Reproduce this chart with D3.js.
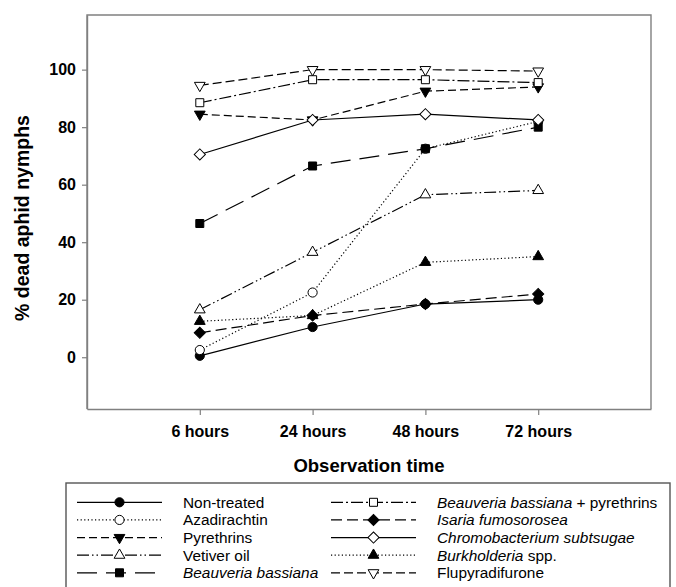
<!DOCTYPE html>
<html>
<head>
<meta charset="utf-8">
<script src="https://cdn.jsdelivr.net/npm/d3@7"></script>
<style>
  body { margin: 0; background: #fff; }
  svg { display: block; font-family: 'Liberation Sans', Arial, sans-serif; }
</style>
</head>
<body>
<svg id="chart" width="676" height="587"></svg>
<script>
// observation times on the x axis
var timePoints = ['6 hours', '24 hours', '48 hours', '72 hours'];
var yTicks = [0, 20, 40, 60, 80, 100];

// % dead aphid nymphs per treatment
var nonTreated          = [0.5, 10.5, 18.5, 20];
var azadirachtin        = [2.5, 22.5, 72.5, 82];
var pyrethrins          = [84.5, 82.5, 92.5, 94];
var vetiverOil          = [16.5, 36.5, 56.5, 58];
var beauveria           = [46.5, 66.5, 72.5, 80];
var beauveriaPyrethrins = [88.5, 96.5, 96.5, 95.5];
var isaria              = [8.5, 14.5, 18.5, 22];
var chromobacterium     = [70.5, 82.5, 84.5, 82.5];
var burkholderia        = [12.5, 14.5, 33, 35];
var flupyradifurone     = [94.5, 100, 100, 99.5];

// legend names: [text, italic] pieces
var seriesNames = [
  [['Non-treated', false]],
  [['Azadirachtin', false]],
  [['Pyrethrins', false]],
  [['Vetiver oil', false]],
  [['Beauveria bassiana', true]],
  [['Beauveria bassiana', true], [' + pyrethrins', false]],
  [['Isaria fumosorosea', true]],
  [['Chromobacterium subtsugae', true]],
  [['Burkholderia', true], [' spp.', false]],
  [['Flupyradifurone', false]]
];

(function() {
  var seriesValues = [nonTreated, azadirachtin, pyrethrins, vetiverOil, beauveria,
    beauveriaPyrethrins, isaria, chromobacterium, burkholderia, flupyradifurone];

  // styles: marker shape, filled, dash pattern
  var styles = [
    { shape: 'circle', filled: true,  dash: null },
    { shape: 'circle', filled: false, dash: '1.2,2.4' },
    { shape: 'down',   filled: true,  dash: '8,4' },
    { shape: 'up',     filled: false, dash: '12,3,1.5,3,1.5,3' },
    { shape: 'square', filled: true,  dash: '20,9' },
    { shape: 'square', filled: false, dash: '12,3,2,3' },
    { shape: 'diamond', filled: true, dash: '11,5' },
    { shape: 'diamond', filled: false, dash: null },
    { shape: 'up',     filled: true,  dash: '1.2,2.4' },
    { shape: 'down',   filled: false, dash: '9,4' }
  ];

  var svg = d3.select('#chart');
  var plotLeft = 87, plotRight = 651, plotTop = 15, plotBottom = 409;

  var x = d3.scalePoint().domain(timePoints).range([plotLeft, plotRight]).padding(1);
  var y = d3.scaleLinear().domain([-18, 119]).range([plotBottom, plotTop]);

  var symbolFor = function(shape) {
    if (shape === 'circle') return d3.symbol(d3.symbolCircle, 66)();
    if (shape === 'square') return d3.symbol(d3.symbolSquare, 64)();
    if (shape === 'diamond') return d3.symbol(d3.symbolSquare, 62)();
    return d3.symbol(d3.symbolTriangle, 50)();
  };
  var rotateFor = function(shape) {
    if (shape === 'diamond') return 45;
    if (shape === 'down') return 180;
    return 0;
  };

  function drawMarker(g, st, cx, cy) {
    g.append('path')
      .attr('d', symbolFor(st.shape))
      .attr('transform', 'translate(' + cx + ',' + cy + ') rotate(' + rotateFor(st.shape) + ')')
      .attr('fill', st.filled ? '#000' : '#fff')
      .attr('stroke', '#000')
      .attr('stroke-width', 1);
  }

  // frame
  var frameColor = '#808080';
  svg.append('path')
    .attr('d', 'M' + plotLeft + ',' + plotBottom + 'V' + plotTop + 'H' + plotRight + 'V' + plotBottom)
    .attr('fill', 'none').attr('stroke', frameColor).attr('stroke-width', 1.4);

  // axes
  var yAxis = svg.append('g').attr('transform', 'translate(' + plotLeft + ',0)')
    .call(d3.axisLeft(y).tickValues(yTicks).tickSize(5).tickSizeOuter(0).tickPadding(6));
  var xAxis = svg.append('g').attr('transform', 'translate(0,' + plotBottom + ')')
    .call(d3.axisBottom(x).tickSize(6).tickSizeOuter(0).tickPadding(11));
  [xAxis, yAxis].forEach(function(a) {
    a.select('.domain').attr('stroke', frameColor).attr('stroke-width', 1.4);
    a.selectAll('.tick line').attr('stroke', frameColor).attr('stroke-width', 1.2);
    a.selectAll('.tick text')
      .attr('fill', '#000')
      .style('font-family', "'Liberation Sans', Arial, sans-serif")
      .style('font-size', '16px')
      .style('font-weight', 'bold');
  });

  // series lines
  var line = d3.line()
    .x(function(d, i) { return x(timePoints[i]); })
    .y(function(d) { return y(d); });

  var plot = svg.append('g');
  seriesValues.forEach(function(vals, k) {
    var st = styles[k];
    var g = plot.append('g');
    g.append('path')
      .attr('d', line(vals))
      .attr('fill', 'none')
      .attr('stroke', '#000')
      .attr('stroke-width', 1.2)
      .attr('stroke-dasharray', st.dash);
    vals.forEach(function(v, i) {
      drawMarker(g, st, x(timePoints[i]), y(v));
    });
  });

  // axis titles
  svg.append('text')
    .attr('x', (plotLeft + plotRight) / 2).attr('y', 472)
    .attr('text-anchor', 'middle')
    .style('font-size', '18.5px').style('font-weight', 'bold')
    .text('Observation time');

  svg.append('text')
    .attr('transform', 'translate(29,218) rotate(-90)')
    .attr('text-anchor', 'middle')
    .style('font-size', '19.5px').style('font-weight', 'bold')
    .text('% dead aphid nymphs');

  // legend
  var legend = svg.append('g');
  legend.append('rect')
    .attr('x', 66).attr('y', 483).attr('width', 604).attr('height', 110)
    .attr('fill', '#fff').attr('stroke', '#555').attr('stroke-width', 1.4);

  var colX = [77, 331], sampleLen = 85, textGap = 21;
  var rowY = d3.scaleLinear().domain([0, 4]).range([502.3, 572.8]);

  seriesNames.forEach(function(name, k) {
    var st = styles[k];
    var col = Math.floor(k / 5), row = k % 5;
    var x0 = colX[col], yy = rowY(row);
    var g = legend.append('g');
    g.append('line')
      .attr('x1', x0).attr('x2', x0 + sampleLen)
      .attr('y1', yy).attr('y2', yy)
      .attr('stroke', '#000').attr('stroke-width', 1.2)
      .attr('stroke-dasharray', st.dash);
    drawMarker(g, st, x0 + sampleLen / 2, yy);
    var t = g.append('text')
      .attr('x', x0 + sampleLen + textGap).attr('y', yy + 5.5)
      .style('font-size', '15.4px');
    name.forEach(function(p) {
      t.append('tspan').style('font-style', p[1] ? 'italic' : 'normal').text(p[0]);
    });
  });
})();
</script>
</body>
</html>
